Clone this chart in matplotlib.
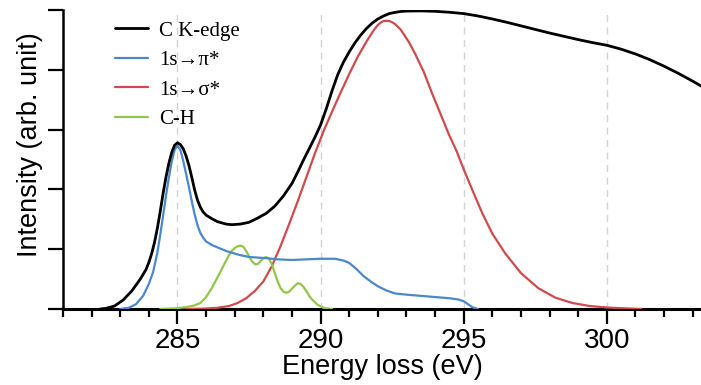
import matplotlib
matplotlib.use("Agg")
import matplotlib.pyplot as plt
from matplotlib.ticker import MultipleLocator

# ---- data (energy in eV, intensity in arb. unit) ----
black_e = [282.3, 282.5, 282.8, 283.1, 283.4, 283.7, 283.9, 284.0, 284.1, 284.2,
           284.3, 284.4, 284.5, 284.6, 284.7, 284.8, 284.9, 285.0, 285.1, 285.2,
           285.3, 285.4, 285.5, 285.6, 285.7, 285.8, 285.9, 286.0, 286.2, 286.4,
           286.7, 286.9, 287.2, 287.5, 287.8, 288.1, 288.4, 288.7, 289.0, 289.2,
           289.4, 289.6, 289.8, 290.0, 290.2, 290.4, 290.6, 290.8, 291.0, 291.2,
           291.4, 291.6, 291.8, 292.0, 292.2, 292.4, 292.6, 292.8, 293.0, 293.5,
           294.0, 294.5, 295.0, 295.5, 296.0, 296.5, 297.0, 297.5, 298.0, 298.5,
           299.0, 299.5, 300.0, 300.5, 301.0, 301.5, 302.0, 302.5, 303.0, 303.4]
black_v = [0.0, 0.01, 0.05, 0.15, 0.3, 0.5, 0.66, 0.78, 0.93, 1.12,
           1.36, 1.64, 1.94, 2.21, 2.44, 2.62, 2.74, 2.78, 2.75, 2.68,
           2.56, 2.4, 2.2, 1.99, 1.82, 1.7, 1.62, 1.57, 1.51, 1.46,
           1.42, 1.41, 1.42, 1.45, 1.52, 1.6, 1.72, 1.89, 2.1, 2.29,
           2.49, 2.68, 2.87, 3.08, 3.35, 3.65, 3.92, 4.13, 4.3, 4.45,
           4.58, 4.69, 4.78, 4.85, 4.9, 4.94, 4.96, 4.975, 4.982, 4.985,
           4.978, 4.962, 4.94, 4.9, 4.85, 4.795, 4.735, 4.675, 4.615, 4.56,
           4.505, 4.455, 4.41, 4.345, 4.265, 4.17, 4.06, 3.94, 3.81, 3.7]

blue_e = [283.0, 283.3, 283.55, 283.8, 284.0, 284.15, 284.3, 284.4, 284.5, 284.6,
          284.7, 284.8, 284.9, 285.0, 285.1, 285.2, 285.3, 285.4, 285.5, 285.6,
          285.7, 285.8, 285.9, 286.0, 286.2, 286.4, 286.7, 286.9, 287.2, 287.5,
          287.8, 288.1, 288.5, 289.0, 289.5, 290.0, 290.5, 290.8, 291.0, 291.25,
          291.5, 291.75, 292.0, 292.3, 292.6, 293.0, 293.5, 294.0, 294.5, 294.8,
          295.0, 295.15, 295.3, 295.5]
blue_v = [0.0, 0.02, 0.08, 0.22, 0.42, 0.62, 0.95, 1.25, 1.57, 1.9,
          2.2, 2.47, 2.66, 2.73, 2.66, 2.48, 2.26, 2.04, 1.8, 1.58,
          1.4, 1.27, 1.19, 1.13, 1.07, 1.03, 0.97, 0.94, 0.9, 0.87,
          0.86, 0.85, 0.83, 0.82, 0.83, 0.84, 0.84, 0.81, 0.77, 0.67,
          0.55, 0.46, 0.38, 0.31, 0.26, 0.24, 0.22, 0.2, 0.18, 0.16,
          0.13, 0.08, 0.03, 0.0]

red_e = [285.3, 285.9, 286.4, 286.8, 287.1, 287.4, 287.7, 288.0, 288.3, 288.6,
         288.9, 289.2, 289.5, 289.8, 290.1, 290.4, 290.7, 291.0, 291.3, 291.6,
         291.8, 291.9, 292.0, 292.1, 292.2, 292.3, 292.4, 292.5, 292.6, 292.7,
         292.8, 292.9, 293.1, 293.3, 293.6, 293.9, 294.2, 294.5, 294.76, 295.03,
         295.31, 295.65, 296.0, 296.45, 297.0, 297.6, 298.2, 298.8, 299.4, 300.0,
         300.7, 301.2]
red_v = [0.0, 0.005, 0.02, 0.05, 0.1, 0.18, 0.3, 0.46, 0.72, 1.05,
         1.42, 1.8, 2.2, 2.6, 2.97, 3.3, 3.62, 3.93, 4.22, 4.47,
         4.62, 4.69, 4.75, 4.79, 4.815, 4.82, 4.815, 4.795, 4.765, 4.72,
         4.67, 4.6, 4.45, 4.27, 3.97, 3.6, 3.25, 2.9, 2.63, 2.3,
         1.98, 1.6, 1.26, 0.93, 0.6, 0.35, 0.19, 0.1, 0.05, 0.025,
         0.01, 0.0]

green_e = [284.4, 284.9, 285.3, 285.6, 285.8, 286.0, 286.2, 286.4, 286.6, 286.8,
           286.9, 287.0, 287.1, 287.2, 287.3, 287.4, 287.5, 287.6, 287.7, 287.8,
           287.9, 288.0, 288.1, 288.2, 288.3, 288.4, 288.5, 288.6, 288.7, 288.8,
           288.9, 289.0, 289.1, 289.2, 289.3, 289.4, 289.5, 289.6, 289.7, 289.9,
           290.1, 290.4]
green_v = [0.0, 0.01, 0.03, 0.06, 0.1, 0.2, 0.35, 0.53, 0.72, 0.9,
           0.97, 1.02, 1.05, 1.06, 1.04, 0.97, 0.88, 0.8, 0.75, 0.75,
           0.8, 0.85, 0.87, 0.84, 0.74, 0.6, 0.46, 0.35, 0.29, 0.27,
           0.29, 0.34, 0.39, 0.43, 0.42, 0.37, 0.3, 0.22, 0.16, 0.07,
           0.02, 0.0]

labels = ['C K-edge', '1s\u2192\u03c0*', '1s\u2192\u03c3*', 'C-H']
colors = ['black', '#4a87cc', '#d04a4c', '#92c647']
grid_x = [285, 290, 295, 300]

tickFont = {'family': 'Liberation Sans', 'size': 20}
labelFont = {'family': 'Liberation Sans', 'size': 19.5}

fig = plt.figure(figsize=(7.01, 3.85), dpi=100)
ax = fig.add_axes([63 / 701, (385 - 309) / 385, (701 - 63) / 701, (309 - 10) / 385])

for gx in grid_x:
    ax.axvline(gx, color='#d2d2d2', lw=1, ls=(0, (5, 4)), zorder=0)

kw = dict(solid_joinstyle='round', solid_capstyle='round')
ax.plot(black_e, black_v, color=colors[0], lw=2.0, label=labels[0], zorder=5, **kw)
ax.plot(blue_e, blue_v, color=colors[1], lw=1.6, label=labels[1], zorder=4, **kw)
ax.plot(red_e, red_v, color=colors[2], lw=1.6, label=labels[2], zorder=3, **kw)
ax.plot(green_e, green_v, color=colors[3], lw=1.6, label=labels[3], zorder=3, **kw)

ax.set_xlim(281, 303.29)
ax.set_ylim(0, 5)

ax.xaxis.set_major_locator(MultipleLocator(5))
ax.xaxis.set_minor_locator(MultipleLocator(1))
ax.yaxis.set_major_locator(MultipleLocator(1))
ax.tick_params(axis='x', which='major', direction='out', length=11, width=1.6, pad=3)
ax.tick_params(axis='x', which='minor', direction='out', length=6, width=1.6)
ax.tick_params(axis='y', which='major', direction='out', length=11, width=1.6, labelleft=False)
for t in ax.get_xticklabels():
    t.set_fontfamily(tickFont['family'])
    t.set_fontsize(tickFont['size'])

ax.spines['top'].set_visible(False)
ax.spines['right'].set_visible(False)
ax.spines['left'].set_linewidth(1.8)
ax.spines['bottom'].set_linewidth(2.2)

ax.set_xlabel('Energy loss (eV)', fontdict=labelFont, labelpad=0)
ax.set_ylabel('Intensity (arb. unit)', fontdict=labelFont)
ax.yaxis.set_label_coords(-0.032, 0.55)

ax.legend(loc='upper left', bbox_to_anchor=(115 / 701, 1 - 21 / 385),
          bbox_transform=fig.transFigure, frameon=False, borderpad=0,
          borderaxespad=0, handlelength=1.6, handletextpad=0.5,
          labelspacing=0.48, prop={'family': ['Liberation Serif', 'DejaVu Serif'], 'size': 15})

fig.savefig('out.png', dpi=100)
